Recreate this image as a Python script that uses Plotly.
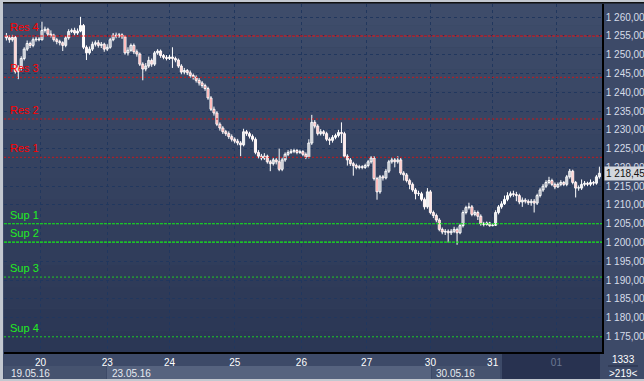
import plotly.graph_objects as go

# ---------------- data ----------------
bars = list(range(201))
first_open = 1255.0
closes = [
1254.5,1254.0,1254.6,1245.5,1246.5,1249.0,1251.5,1253.0,1252.5,1254.0,
1254.2,1254.0,1256.5,1256.8,1255.5,1255.2,1254.0,1253.5,1253.2,1252.5,
1254.5,1256.2,1256.5,1255.8,1256.3,1257.8,1252.0,1250.5,1251.5,1252.8,
1253.2,1252.5,1252.8,1251.5,1252.0,1254.0,1255.2,1255.0,1255.3,1254.8,
1250.5,1251.2,1252.5,1250.8,1250.2,1247.5,1246.2,1247.0,1248.5,1247.5,
1250.5,1251.0,1249.8,1249.3,1249.0,1249.4,1249.0,1248.6,1247.0,1245.4,
1245.8,1245.2,1244.5,1244.0,1243.2,1242.5,1241.8,1241.0,1238.5,1235.5,
1234.5,1231.5,1230.5,1229.5,1229.0,1228.2,1227.5,1227.0,1226.5,1226.0,
1229.5,1229.0,1228.3,1227.5,1224.0,1223.0,1222.5,1223.0,1221.5,1221.0,
1222.0,1221.5,1219.5,1222.0,1223.5,1224.0,1224.3,1224.5,1224.0,1224.2,
1223.5,1222.8,1226.5,1232.0,1231.0,1229.0,1229.5,1229.0,1227.5,1227.2,
1228.0,1228.5,1229.3,1229.0,1223.0,1222.0,1221.0,1220.5,1220.0,1220.2,
1220.0,1220.5,1221.5,1222.5,1217.0,1213.5,1217.5,1217.2,1219.0,1221.5,
1222.0,1221.5,1222.0,1218.5,1218.0,1216.5,1215.5,1214.0,1213.0,1213.0,
1211.5,1209.5,1213.5,1208.0,1207.2,1206.0,1203.5,1202.8,1203.0,1202.6,
1203.0,1203.5,1202.6,1204.5,1208.0,1209.3,1209.5,1207.5,1208.0,1207.0,
1205.0,1204.8,1205.2,1204.5,1204.6,1208.0,1209.5,1210.3,1211.5,1212.5,
1213.0,1212.8,1212.5,1210.8,1211.3,1211.0,1210.6,1211.0,1210.5,1212.5,
1214.0,1215.0,1216.0,1216.5,1215.5,1214.8,1215.5,1216.0,1215.5,1217.5,
1219.0,1216.0,1214.5,1214.5,1215.5,1215.8,1215.5,1216.0,1215.8,1217.5,
1218.45]
highs = [
1255.8,1255.2,1255.3,1255.0,1247.2,1249.6,1252.0,1253.8,1253.5,1254.6,
1254.8,1254.7,1258.8,1257.5,1257.2,1256.5,1255.6,1254.5,1254.0,1253.6,
1255.0,1256.8,1257.0,1257.2,1257.0,1260.1,1258.2,1252.5,1252.2,1253.5,
1253.8,1253.9,1253.4,1253.2,1252.8,1254.5,1255.8,1255.9,1255.8,1255.7,
1255.2,1252.0,1253.0,1253.0,1251.4,1250.6,1248.0,1247.8,1249.5,1249.0,
1251.0,1251.5,1251.4,1250.2,1249.9,1250.0,1252.0,1249.5,1249.0,1247.5,
1246.5,1246.2,1245.8,1245.0,1244.5,1243.8,1243.0,1242.3,1241.5,1239.0,
1236.2,1235.0,1232.0,1231.0,1230.0,1229.6,1228.8,1228.0,1227.6,1227.0,
1230.3,1230.0,1229.5,1228.8,1228.0,1224.6,1223.6,1223.8,1223.4,1222.0,
1222.6,1222.5,1225.0,1222.6,1224.0,1224.6,1224.9,1225.0,1224.9,1224.7,
1224.6,1224.0,1227.5,1234.0,1232.6,1231.5,1230.2,1230.0,1229.5,1228.0,
1228.6,1229.0,1230.0,1232.0,1229.5,1223.5,1222.5,1221.5,1221.0,1220.7,
1220.6,1221.0,1222.0,1223.0,1223.0,1217.5,1218.0,1218.0,1219.6,1222.0,
1222.6,1222.5,1223.0,1222.5,1219.0,1218.5,1217.0,1216.0,1214.5,1213.8,
1213.5,1212.0,1214.5,1214.0,1208.5,1207.7,1206.5,1204.0,1203.6,1203.5,
1203.6,1204.2,1204.0,1205.0,1208.6,1209.8,1210.6,1210.0,1208.6,1208.5,
1207.5,1205.5,1205.6,1205.5,1205.0,1208.6,1210.0,1211.0,1212.5,1213.4,
1213.6,1213.8,1213.5,1213.0,1212.0,1211.8,1211.5,1211.6,1211.6,1213.0,
1214.6,1215.6,1216.6,1217.5,1217.0,1216.0,1216.0,1216.6,1216.4,1218.0,
1219.6,1219.4,1216.4,1215.2,1216.8,1216.4,1216.2,1216.8,1216.4,1218.0,
1220.2]
lows = [
1253.8,1253.2,1253.5,1245.0,1243.5,1245.8,1248.5,1251.0,1251.8,1252.0,
1253.5,1253.6,1253.8,1255.9,1255.0,1254.6,1253.5,1252.8,1252.5,1251.0,
1252.0,1254.0,1255.8,1255.2,1255.3,1256.0,1251.5,1248.6,1250.0,1251.0,
1252.2,1251.9,1251.8,1250.8,1251.0,1251.6,1253.6,1254.4,1254.5,1254.2,
1250.0,1249.8,1250.8,1250.2,1249.5,1247.0,1243.2,1245.6,1246.5,1246.8,
1247.0,1250.0,1249.2,1248.8,1248.5,1248.6,1246.5,1248.0,1246.5,1244.8,
1244.8,1244.6,1243.9,1243.4,1242.6,1241.8,1241.2,1240.4,1238.0,1235.0,
1233.8,1231.0,1229.8,1228.9,1228.4,1227.6,1226.9,1226.4,1225.9,1223.0,
1225.6,1228.4,1227.7,1226.9,1223.5,1222.4,1221.9,1222.0,1221.0,1219.0,
1220.5,1220.8,1219.0,1219.0,1221.5,1223.0,1223.6,1223.8,1223.5,1223.6,
1223.0,1222.2,1222.4,1226.0,1230.4,1228.5,1228.5,1228.4,1227.0,1226.0,
1226.6,1227.5,1228.0,1226.5,1222.5,1220.5,1220.4,1217.8,1219.5,1219.5,
1219.5,1219.6,1220.0,1221.0,1216.5,1211.4,1213.0,1216.5,1216.8,1218.5,
1221.0,1220.0,1221.0,1218.0,1216.5,1216.0,1214.2,1213.5,1211.5,1212.4,
1211.0,1208.8,1209.0,1207.5,1206.5,1205.4,1203.0,1202.2,1202.0,1200.0,
1202.0,1202.5,1199.4,1202.2,1204.0,1207.5,1208.8,1207.0,1207.0,1206.0,
1204.5,1204.3,1204.5,1204.2,1204.3,1204.4,1207.5,1209.0,1210.0,1211.0,
1212.0,1212.2,1211.0,1210.2,1209.5,1210.4,1210.0,1209.8,1208.0,1210.0,
1212.0,1213.5,1214.5,1215.5,1215.0,1214.2,1214.5,1215.0,1215.0,1215.0,
1217.0,1215.5,1212.0,1213.8,1214.0,1215.0,1215.0,1215.0,1215.2,1215.4,
1217.0]
opens = [first_open] + closes[:-1]

day_ticks = [11.5, 34.0, 55.0, 77.0, 99.5, 121.5, 143.0, 164.0, 185.5]
day_labels = ["20", "23", "24", "25", "26", "27", "30", "31",
              "<span style='color:#6b7793'>01</span>"]

price_ticks = [1175, 1180, 1185, 1190, 1195, 1200, 1205, 1210, 1215,
               1220, 1225, 1230, 1235, 1240, 1245, 1250, 1255, 1260]
price_labels = ["1 175,00", "1 180,00", "1 185,00", "1 190,00", "1 195,00",
                "1 200,00", "1 205,00", "1 210,00", "1 215,00", "1 220,00",
                "1 225,00", "1 230,00", "1 235,00", "1 240,00", "1 245,00",
                "1 250,00", "1 255,00", "1 260,00"]

level_names = ["Res 4", "Res 3", "Res 2", "Res 1", "Sup 1", "Sup 2", "Sup 3", "Sup 4"]
level_values = [1255.0, 1244.0, 1232.9, 1222.7, 1205.0, 1200.1, 1190.8, 1174.9]

last_price = 1218.45
last_price_label = "1 218,45"
date_labels = ["19.05.16", "23.05.16", "30.05.16"]
corner_top = "1333"
corner_bottom = ">219<"

# ---------------- layout helpers ----------------
W, H = 644, 381
ML, MR, MT, MB = 4, 42, 4, 29
PW, PH = W - ML - MR, H - MT - MB
FONT = "Liberation Sans, Arial, sans-serif"
BODY_BG = "#34415e"


def px(X):
    return (X - ML) / PW


def py(Y):
    return (H - MB - Y) / PH


fig = go.Figure()

# wicks
wx, wy = [], []
for b, lo, hi in zip(bars, lows, highs):
    wx += [b, b, None]
    wy += [lo, hi, None]
fig.add_trace(go.Scatter(x=wx, y=wy, mode="lines", line=dict(color="#ffffff", width=1),
                         hoverinfo="skip", showlegend=False))

# bodies
body_base = [min(o, c) for o, c in zip(opens, closes)]
body_len = [max(abs(c - o), 0.12) for o, c in zip(opens, closes)]
body_col = ["#ff0000" if c < o else BODY_BG for o, c in zip(opens, closes)]
fig.add_trace(go.Bar(x=bars, y=body_len, base=body_base, width=0.68,
                     marker=dict(color=body_col, line=dict(color="#ffffff", width=1)),
                     hoverinfo="skip", showlegend=False))

shapes = []
# plot-area vertical gradient
top_c = (62, 76, 106)
bot_c = (43, 55, 85)
nb = 16
for k in range(nb):
    t = k / (nb - 1)
    c = tuple(int(round(top_c[j] + (bot_c[j] - top_c[j]) * t)) for j in range(3))
    shapes.append(dict(type="rect", xref="x domain", yref="y domain",
                       x0=0, x1=1, y0=1 - (k + 1) / nb, y1=1 - k / nb,
                       fillcolor="rgb(%d,%d,%d)" % c, line=dict(width=0),
                       layer="below"))

# level lines
for name, v in zip(level_names, level_values):
    red = name.startswith("Res")
    strong = name in ("Res 4", "Sup 1", "Sup 2")
    col = ("#ee1515" if strong else "#c81a1a") if red else ("#19f019" if strong else "#22cc22")
    shapes.append(dict(type="line", xref="paper", yref="y", x0=0, x1=1, y0=v, y1=v,
                       line=dict(color=col, width=1.2 if strong else 1,
                                 dash="3px,1px" if strong else "2px,2px"),
                       layer="above"))

# bottom axis decorations
def prect(X0, X1, Y0, Y1, color):
    shapes.append(dict(type="rect", xref="paper", yref="paper",
                       x0=px(X0), x1=px(X1), y0=py(Y1), y1=py(Y0),
                       fillcolor=color, line=dict(width=0), layer="below"))

prect(4, 106, 366, 379, "#46536f")
prect(107, 431, 366, 379, "#56637f")
prect(432, 500, 366, 379, "#46536f")
prect(502, 600, 353, 379, "#283250")
prect(0, 3, 0, 381, "#c3c8d0")
prect(0, 644, 0, 2, "#c3c8d0")
prect(0, 644, 379, 381, "#c3c8d0")
prect(3, 644, 2, 3.5, "#111111")
prect(608, 638, 365.5, 366.5, "#262f48")

annotations = []
for name, v in zip(level_names, level_values):
    col = "#ff0000" if name.startswith("Res") else "#22ee22"
    annotations.append(dict(text=name, xref="paper", yref="y", x=px(8), y=v,
                            xanchor="left", yanchor="bottom", yshift=1,
                            showarrow=False, font=dict(family=FONT, size=11, color=col)))

for lab, X in zip(date_labels, [9, 110, 434]):
    annotations.append(dict(text=lab, xref="paper", yref="paper", x=px(X), y=py(373),
                            xanchor="left", yanchor="middle", showarrow=False,
                            font=dict(family=FONT, size=10, color="#e6eaf0")))

annotations.append(dict(text=corner_top, xref="paper", yref="paper", x=px(623), y=py(359),
                        xanchor="center", yanchor="middle", showarrow=False,
                        font=dict(family=FONT, size=10, color="#ffffff")))
annotations.append(dict(text=corner_bottom, xref="paper", yref="paper", x=px(623), y=py(373),
                        xanchor="center", yanchor="middle", showarrow=False,
                        font=dict(family=FONT, size=10, color="#ffffff")))

annotations.append(dict(text=last_price_label, xref="paper", yref="y", x=px(604), y=last_price,
                        xanchor="left", yanchor="middle", showarrow=False,
                        bgcolor="#d3d7de", borderpad=1,
                        font=dict(family=FONT, size=10, color="#111111")))

fig.update_layout(
    width=W, height=H,
    margin=dict(l=ML, r=MR, t=MT, b=MB, pad=0, autoexpand=False),
    paper_bgcolor="#3d4a68", plot_bgcolor="#36435f",
    shapes=shapes, annotations=annotations,
    showlegend=False, barmode="overlay",
    xaxis=dict(range=[-0.81, 200.88],
               tickmode="array", tickvals=day_ticks, ticktext=day_labels,
               tickfont=dict(family=FONT, size=10, color="#ffffff"),
               showgrid=True, gridcolor="#21375e", griddash="3px,3px", gridwidth=1,
               showline=True, linecolor="#000000", linewidth=1.5,
               ticks="", zeroline=False, fixedrange=True),
    yaxis=dict(range=[1170.85, 1263.52], side="right",
               tickmode="array", tickvals=price_ticks, ticktext=price_labels,
               tickfont=dict(family=FONT, size=10, color="#d6dce8"),
               showgrid=True, gridcolor="#21375e", griddash="3px,3px", gridwidth=1,
               showline=True, linecolor="#000000", linewidth=1.5,
               ticks="", zeroline=False, fixedrange=True),
)

fig.write_html("out.html", config={"displayModeBar": False},
               post_script="document.body.style.margin='0px';document.body.style.overflow='hidden';")
